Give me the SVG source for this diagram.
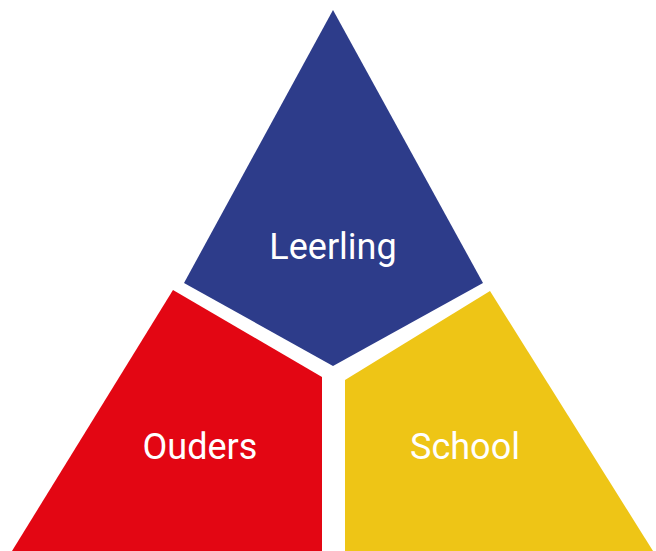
<svg xmlns="http://www.w3.org/2000/svg" width="656" height="551" viewBox="0 0 656 551">
<style>
.lbl{font-family:Roboto,"Liberation Sans",sans-serif;font-size:36px;fill:#ffffff;text-anchor:middle}
</style>
<rect width="656" height="551" fill="#ffffff"/>
<g id="leerling">
<polygon points="333,10 483,283 333,366 184,283" fill="#2d3c8a"/>
<text class="lbl" x="333" y="259">Leerling</text>
</g>
<g id="ouders">
<polygon points="173,290 322,377 322,551 12,551" fill="#e30613"/>
<text class="lbl" x="200" y="459">Ouders</text>
</g>
<g id="school">
<polygon points="490,291 345,380 345,551 653,551" fill="#eec516"/>
<text class="lbl" x="465" y="459">School</text>
</g>
<g id="connectors"></g>
</svg>
